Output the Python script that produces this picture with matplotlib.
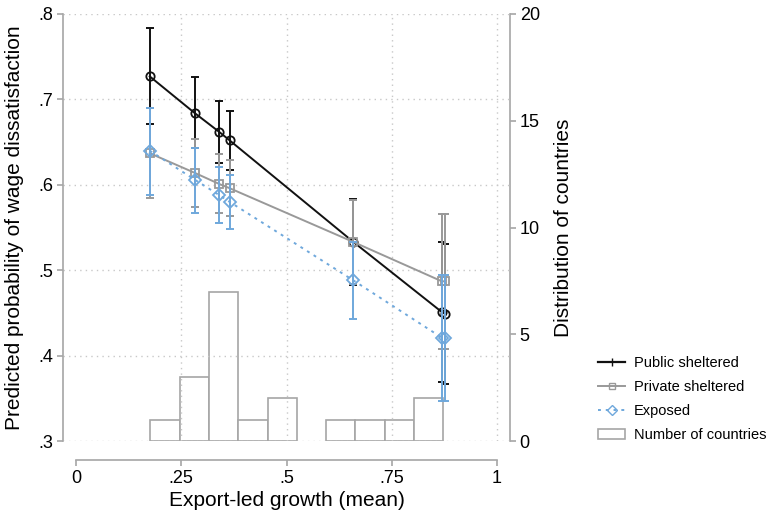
import numpy as np
import matplotlib
matplotlib.use("Agg")
import matplotlib.pyplot as plt
from matplotlib.lines import Line2D
from matplotlib.patches import Patch

plt.rcParams['font.family'] = ['Liberation Sans', 'DejaVu Sans']

# --- data ---
growth = [0.175, 0.282, 0.340, 0.365, 0.659, 0.869, 0.876]

public_est = [0.727, 0.684, 0.662, 0.652, 0.533, 0.451, 0.449]
public_lo = [0.671, 0.643, 0.626, 0.617, 0.483, 0.369, 0.367]
public_hi = [0.784, 0.726, 0.698, 0.686, 0.583, 0.533, 0.531]

private_est = [0.637, 0.614, 0.601, 0.596, 0.533, 0.487, 0.487]
private_lo = [0.584, 0.574, 0.567, 0.563, 0.484, 0.408, 0.408]
private_hi = [0.690, 0.654, 0.636, 0.629, 0.582, 0.566, 0.566]

exposed_est = [0.640, 0.606, 0.588, 0.580, 0.488, 0.421, 0.421]
exposed_lo = [0.588, 0.567, 0.555, 0.548, 0.443, 0.347, 0.347]
exposed_hi = [0.690, 0.643, 0.621, 0.611, 0.533, 0.494, 0.494]

bin_edges = [0.176, 0.246, 0.315, 0.385, 0.455, 0.524, 0.594, 0.663, 0.733, 0.802, 0.872]
bin_counts = [1, 3, 7, 1, 2, 0, 1, 1, 1, 2]

x_ticks = [0, 0.25, 0.5, 0.75, 1]
x_ticklabels = ['0', '.25', '.5', '.75', '1']
y_ticks = [0.3, 0.4, 0.5, 0.6, 0.7, 0.8]
y_ticklabels = ['.3', '.4', '.5', '.6', '.7', '.8']
y2_ticks = [0, 5, 10, 15, 20]

black = '#111111'
grey = '#999999'
blue = '#6fa8dc'
axis_grey = '#a6a6a6'

fig = plt.figure(figsize=(7.72, 5.12), dpi=100)
ax = fig.add_axes([63 / 772, 71 / 512, 447 / 772, 427 / 512])
ax2 = ax.twinx()

# histogram on the right axis, behind everything
ax2.set_zorder(0)
ax.set_zorder(1)
ax.patch.set_visible(False)
for i in range(len(bin_counts)):
    if bin_counts[i] > 0:
        ax2.bar(bin_edges[i], bin_counts[i], width=bin_edges[i + 1] - bin_edges[i], align='edge',
                facecolor='white', edgecolor=axis_grey, lw=1.2)
ax2.set_ylim(0, 20)
ax2.set_yticks(y2_ticks)
ax2.set_ylabel('Distribution of countries', fontsize=15, labelpad=10)

x = np.array(growth)

def draw_series(est, lo, hi, color, marker, ls, z):
    est = np.array(est)
    err = [est - np.array(lo), np.array(hi) - est]
    ax.errorbar(x, est, yerr=err, fmt='none', ecolor=color, elinewidth=1.4,
                capsize=2.8, capthick=1.4, zorder=z)
    ax.plot(x, est, color=color, ls=ls, lw=1.4, marker=marker, ms=6, mfc='none',
            mec=color, mew=1.3, zorder=z + 0.5)

draw_series(public_est, public_lo, public_hi, black, 'o', '-', 3)
draw_series(private_est, private_lo, private_hi, grey, 's', '-', 4)
draw_series(exposed_est, exposed_lo, exposed_hi, blue, 'D', (0, (1.5, 2.5)), 5)

ax.set_xlim(-0.0309, 1.0309)
ax.set_ylim(0.3, 0.8)
ax.set_xticks(x_ticks)
ax.set_xticklabels(x_ticklabels)
ax.set_yticks(y_ticks)
ax.set_yticklabels(y_ticklabels)

# grid: dotted, no vertical line at 0
for yv in y_ticks:
    ax.axhline(yv, color='#c8c8c8', ls=(0, (1, 3)), lw=1, zorder=0.5)
for xv in x_ticks[1:]:
    ax.axvline(xv, color='#c8c8c8', ls=(0, (1, 3)), lw=1, zorder=0.5)

for a in (ax, ax2):
    for s in a.spines.values():
        s.set_visible(False)
ax.spines['left'].set_visible(True)
ax.spines['left'].set_color(axis_grey)
ax.spines['left'].set_linewidth(1.2)
ax.spines['bottom'].set_visible(True)
ax.spines['bottom'].set_color(axis_grey)
ax.spines['bottom'].set_linewidth(1.2)
ax.spines['bottom'].set_position(('outward', 14))
ax.spines['bottom'].set_bounds(0, 1)
ax2.spines['right'].set_visible(True)
ax2.spines['right'].set_color(axis_grey)
ax2.spines['right'].set_linewidth(1.2)

ax.tick_params(axis='both', labelsize=13, color=axis_grey, width=1.2, length=4, pad=3)
ax2.tick_params(axis='y', labelsize=13, color=axis_grey, width=1.2, length=4, pad=3)
ax.set_xlabel('Export-led growth (mean)', fontsize=15, labelpad=3)
ax.set_ylabel('Predicted probability of wage dissatisfaction', fontsize=15, labelpad=10)

handles = [
    Line2D([0, 1], [0, 0], color=black, lw=1.6, marker='|', ms=6, markevery=[0, 1]),
    Line2D([0], [0], color=grey, lw=1.4, marker='s', ms=5, mfc='none'),
    Line2D([0], [0], color=blue, lw=1.4, ls=(0, (1.5, 2.5)), marker='D', ms=5, mfc='none'),
    Patch(facecolor='white', edgecolor=axis_grey, lw=1.2),
]
labels = ['Public sheltered', 'Private sheltered', 'Exposed', 'Number of countries']
fig.legend(handles, labels, loc='upper left', bbox_to_anchor=(585 / 772, 1 - 343 / 512),
           frameon=False, fontsize=10.5, handlelength=1.85, labelspacing=0.68, handletextpad=0.6)

fig.savefig('out.png', dpi=100)
